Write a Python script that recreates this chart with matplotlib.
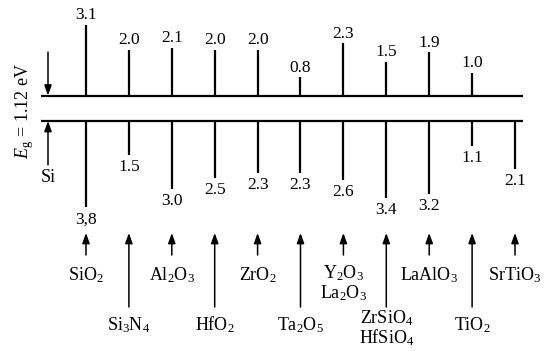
import matplotlib
matplotlib.use("Agg")
import matplotlib.pyplot as plt
import numpy as np

# ---------------- data ----------------
materials = ["SiO$_2$", "Si$_3$N$_4$", "Al$_2$O$_3$", "HfO$_2$", "ZrO$_2$",
             "Ta$_2$O$_5$", "Y$_2$O$_3$\nLa$_2$O$_3$", "ZrSiO$_4$\nHfSiO$_4$",
             "LaAlO$_3$", "TiO$_2$", "SrTiO$_3$"]
cb_offsets = [3.1, 2.0, 2.1, 2.0, 2.0, 0.8, 2.3, 1.5, 1.9, 1.0, 0.0]
cb_labels = ["3.1", "2.0", "2.1", "2.0", "2.0", "0.8", "2.3", "1.5", "1.9", "1.0", ""]
vb_offsets = [3.8, 1.5, 3.0, 2.5, 2.3, 2.3, 2.6, 3.4, 3.2, 1.1, 2.1]
vb_labels = ["3,8", "1.5", "3.0", "2.5", "2.3", "2.3", "2.6", "3.4", "3.2", "1.1", "2.1"]
label_row = [0, 1, 0, 1, 0, 1, 0, 1, 0, 1, 0]   # 0 = upper row, 1 = lower row
si_gap = 1.12

# ---------------- style ----------------
plt.rcParams['font.family'] = ['Liberation Serif', 'DejaVu Serif']
plt.rcParams['mathtext.fontset'] = 'custom'
plt.rcParams['mathtext.rm'] = 'Liberation Serif'
plt.rcParams['mathtext.it'] = 'Liberation Serif:italic'
plt.rcParams['mathtext.bf'] = 'Liberation Serif:bold'

W, H = 554, 351
fig = plt.figure(figsize=(W / 100, H / 100), dpi=100)
ax = fig.add_axes([0, 0, 1, 1])
ax.axis('off')

# layout: pixels -> data units
px_per_ev = 22.7
vb_px = 121.0
x0_px, dx_px = 86.0, 42.9
def ev(py):
    return (vb_px - py) / px_per_ev
def xi(px):
    return (px - x0_px) / dx_px

ax.set_xlim(xi(0), xi(W))
ax.set_ylim(ev(H), ev(0))

n = len(materials)
xs = np.arange(n)
lw = 1.6

# Si band edges
ax.hlines([si_gap, 0.0], xi(41), xi(523), color='black', lw=lw)

num_fs = 12.5
lab_fs = 13
# offsets
for x, cb, cl in zip(xs, cb_offsets, cb_labels):
    if cb > 0:
        ax.vlines(x, si_gap, si_gap + cb, color='black', lw=lw)
        ax.annotate(cl, (x, si_gap + cb), xytext=(0, 4.2), textcoords='offset points',
                    ha='center', va='baseline', fontsize=num_fs)
for x, vb, vl in zip(xs, vb_offsets, vb_labels):
    ax.vlines(x, -vb, 0.0, color='black', lw=lw)
    ax.annotate(vl, (x, -vb), xytext=(0, -3), textcoords='offset points',
                ha='center', va='top', fontsize=num_fs)

# arrows and material names
arrow_tip = ev(233)
arrow_tail = [ev(255), ev(307)]
base = [ev(280), ev(330)]
stack_shift = [2.0 / px_per_ev, 7.0 / px_per_ev]
line_step = 20.5 / px_per_ev
aprops = dict(arrowstyle='-|>,head_length=0.55,head_width=0.2', mutation_scale=11,
              lw=1.1, color='black', shrinkA=0, shrinkB=0)
for x, name, r in zip(xs, materials, label_row):
    ax.annotate('', xy=(x, arrow_tip), xytext=(x, arrow_tail[r]), arrowprops=aprops)
    lines = name.split('\n')
    y0 = base[r] + (stack_shift[r] if len(lines) > 1 else 0.0)
    for k, line in enumerate(lines):
        ax.text(x, y0 - k * line_step, line, ha='center', va='baseline',
                fontsize=lab_fs)

# band gap indicator
xg = xi(48)
ax.annotate('', xy=(xg, si_gap), xytext=(xg, ev(52)), arrowprops=aprops)
ax.annotate('', xy=(xg, 0.0), xytext=(xg, ev(165)), arrowprops=aprops)
ax.text(xg, ev(178), 'Si', ha='center', va='center', fontsize=lab_fs)
ax.text(xi(25), ev(111), r'$E_{\mathrm{g}}$ = 1.12 eV', rotation=90,
        ha='center', va='center', fontsize=lab_fs)

fig.savefig('out.png', dpi=100)
